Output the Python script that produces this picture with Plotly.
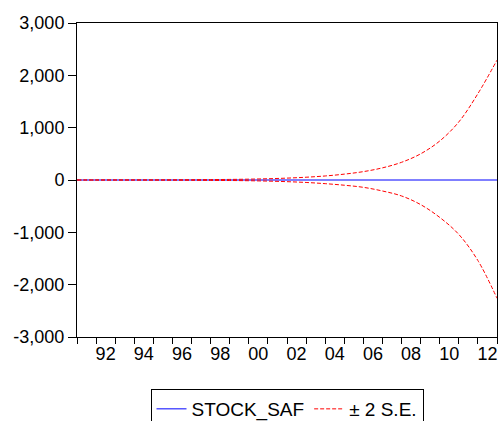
import plotly.graph_objects as go

years = list(range(1991, 2014))
stock_saf = [0] * len(years)
upper_se = [0, 0.5, 1, 1.5, 2.5, 4, 6, 8, 11, 16, 24, 36, 53, 77, 112, 160,
            232, 338, 500, 745, 1110, 1650, 2290]
lower_se = [0, -0.5, -1, -1.5, -2.5, -4, -6, -8, -10, -14, -21, -32, -47, -70,
            -100, -140, -210, -305, -470, -715, -1040, -1540, -2260]

x_label_years = list(range(1992, 2013, 2))
x_tick_text = ["92", "94", "96", "98", "00", "02", "04", "06", "08", "10", "12"]
y_tick_vals = [-3000, -2000, -1000, 0, 1000, 2000, 3000]
y_tick_text = ["-3,000", "-2,000", "-1,000", "0", "1,000", "2,000", "3,000"]

FONT = "Liberation Sans, Arial, sans-serif"

fig = go.Figure()
fig.add_trace(go.Scatter(x=years, y=stock_saf, mode="lines", name="STOCK_SAF",
                         line=dict(color="#0000ff", width=1)))
fig.add_trace(go.Scatter(x=years, y=upper_se, mode="lines", name="± 2 S.E.",
                         line=dict(color="#ff0000", width=1, dash="4px,2px", shape="spline")))
fig.add_trace(go.Scatter(x=years, y=lower_se, mode="lines", name="± 2 S.E.",
                         showlegend=False,
                         line=dict(color="#ff0000", width=1, dash="4px,2px", shape="spline")))

fig.update_layout(
    width=502, height=421,
    margin=dict(l=77, r=5, t=23, b=84, autoexpand=False),
    paper_bgcolor="white", plot_bgcolor="white",
    font=dict(family=FONT, size=18, color="black"),
    showlegend=True,
    legend=dict(orientation="h", x=0.5, xanchor="center",
                yref="container", y=1 - 389 / 421, yanchor="top",
                bordercolor="black", borderwidth=1, font=dict(size=19),
                itemwidth=30, tracegroupgap=0),
    xaxis=dict(range=[1991, 2013], showgrid=False, zeroline=False,
               showline=True, linecolor="black", linewidth=1, mirror=True,
               tickmode="array", tickvals=[y + 0.5 for y in x_label_years],
               ticktext=x_tick_text, ticks="", ticklen=0,
               minor=dict(tickmode="linear", tick0=1991, dtick=1, ticks="outside",
                          ticklen=6, tickcolor="black", showgrid=False),
               tickfont=dict(size=18)),
    yaxis=dict(range=[-3000, 3000], showgrid=False, zeroline=False,
               showline=True, linecolor="black", linewidth=1, mirror=True,
               tickmode="array", tickvals=y_tick_vals, ticktext=y_tick_text,
               ticks="outside", ticklen=8, tickcolor="black",
               tickfont=dict(size=18)),
)

fig.write_html("out.html")
